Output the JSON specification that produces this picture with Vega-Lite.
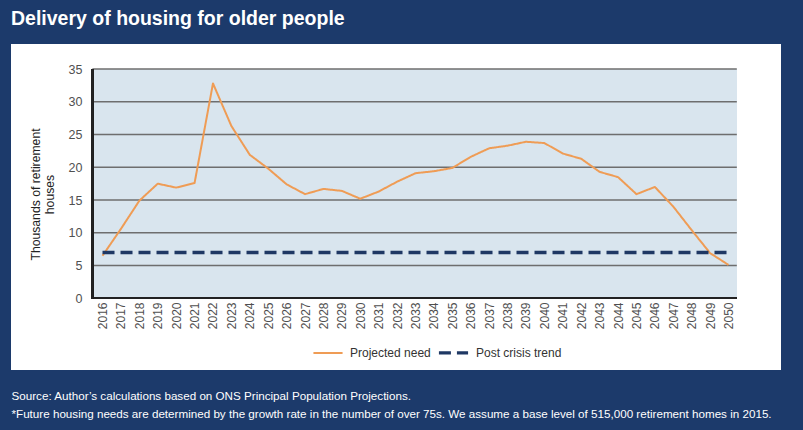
{
  "$schema": "https://vega.github.io/schema/vega-lite/v6.json",
  "width": 770,
  "height": 326,
  "autosize": {"type": "none"},
  "padding": {"left": 11, "top": 44, "right": 22, "bottom": 60},
  "background": "#1c3a6b",
  "title": {
    "text": "Delivery of housing for older people",
    "anchor": "start",
    "frame": "group",
    "orient": "top",
    "baseline": "alphabetic",
    "offset": 20,
    "dy": 20,
    "color": "#ffffff",
    "font": "Liberation Sans",
    "fontSize": 19.5,
    "fontWeight": "bold"
  },
  "config": {
    "view": {"fill": "#ffffff", "stroke": null},
    "font": "Liberation Sans"
  },
  "datasets": {
    "series": [
      {"year": 2016, "value": 6.5, "series": "Projected need"},
      {"year": 2017, "value": 10.6, "series": "Projected need"},
      {"year": 2018, "value": 14.9, "series": "Projected need"},
      {"year": 2019, "value": 17.5, "series": "Projected need"},
      {"year": 2020, "value": 16.9, "series": "Projected need"},
      {"year": 2021, "value": 17.6, "series": "Projected need"},
      {"year": 2022, "value": 32.8, "series": "Projected need"},
      {"year": 2023, "value": 26.3, "series": "Projected need"},
      {"year": 2024, "value": 21.9, "series": "Projected need"},
      {"year": 2025, "value": 19.8, "series": "Projected need"},
      {"year": 2026, "value": 17.4, "series": "Projected need"},
      {"year": 2027, "value": 15.9, "series": "Projected need"},
      {"year": 2028, "value": 16.7, "series": "Projected need"},
      {"year": 2029, "value": 16.4, "series": "Projected need"},
      {"year": 2030, "value": 15.2, "series": "Projected need"},
      {"year": 2031, "value": 16.3, "series": "Projected need"},
      {"year": 2032, "value": 17.8, "series": "Projected need"},
      {"year": 2033, "value": 19.1, "series": "Projected need"},
      {"year": 2034, "value": 19.4, "series": "Projected need"},
      {"year": 2035, "value": 19.9, "series": "Projected need"},
      {"year": 2036, "value": 21.6, "series": "Projected need"},
      {"year": 2037, "value": 22.9, "series": "Projected need"},
      {"year": 2038, "value": 23.3, "series": "Projected need"},
      {"year": 2039, "value": 23.9, "series": "Projected need"},
      {"year": 2040, "value": 23.7, "series": "Projected need"},
      {"year": 2041, "value": 22.1, "series": "Projected need"},
      {"year": 2042, "value": 21.3, "series": "Projected need"},
      {"year": 2043, "value": 19.3, "series": "Projected need"},
      {"year": 2044, "value": 18.5, "series": "Projected need"},
      {"year": 2045, "value": 15.9, "series": "Projected need"},
      {"year": 2046, "value": 17.0, "series": "Projected need"},
      {"year": 2047, "value": 14.0, "series": "Projected need"},
      {"year": 2048, "value": 10.4, "series": "Projected need"},
      {"year": 2049, "value": 6.9, "series": "Projected need"},
      {"year": 2050, "value": 5.1, "series": "Projected need"},
      {"year": 2016, "value": 7, "series": "Post crisis trend"},
      {"year": 2017, "value": 7, "series": "Post crisis trend"},
      {"year": 2018, "value": 7, "series": "Post crisis trend"},
      {"year": 2019, "value": 7, "series": "Post crisis trend"},
      {"year": 2020, "value": 7, "series": "Post crisis trend"},
      {"year": 2021, "value": 7, "series": "Post crisis trend"},
      {"year": 2022, "value": 7, "series": "Post crisis trend"},
      {"year": 2023, "value": 7, "series": "Post crisis trend"},
      {"year": 2024, "value": 7, "series": "Post crisis trend"},
      {"year": 2025, "value": 7, "series": "Post crisis trend"},
      {"year": 2026, "value": 7, "series": "Post crisis trend"},
      {"year": 2027, "value": 7, "series": "Post crisis trend"},
      {"year": 2028, "value": 7, "series": "Post crisis trend"},
      {"year": 2029, "value": 7, "series": "Post crisis trend"},
      {"year": 2030, "value": 7, "series": "Post crisis trend"},
      {"year": 2031, "value": 7, "series": "Post crisis trend"},
      {"year": 2032, "value": 7, "series": "Post crisis trend"},
      {"year": 2033, "value": 7, "series": "Post crisis trend"},
      {"year": 2034, "value": 7, "series": "Post crisis trend"},
      {"year": 2035, "value": 7, "series": "Post crisis trend"},
      {"year": 2036, "value": 7, "series": "Post crisis trend"},
      {"year": 2037, "value": 7, "series": "Post crisis trend"},
      {"year": 2038, "value": 7, "series": "Post crisis trend"},
      {"year": 2039, "value": 7, "series": "Post crisis trend"},
      {"year": 2040, "value": 7, "series": "Post crisis trend"},
      {"year": 2041, "value": 7, "series": "Post crisis trend"},
      {"year": 2042, "value": 7, "series": "Post crisis trend"},
      {"year": 2043, "value": 7, "series": "Post crisis trend"},
      {"year": 2044, "value": 7, "series": "Post crisis trend"},
      {"year": 2045, "value": 7, "series": "Post crisis trend"},
      {"year": 2046, "value": 7, "series": "Post crisis trend"},
      {"year": 2047, "value": 7, "series": "Post crisis trend"},
      {"year": 2048, "value": 7, "series": "Post crisis trend"},
      {"year": 2049, "value": 7, "series": "Post crisis trend"},
      {"year": 2050, "value": 7, "series": "Post crisis trend"}
    ],
    "grid": [
      {"g": 5}, {"g": 10}, {"g": 15}, {"g": 20}, {"g": 25}, {"g": 30}, {"g": 35}
    ]
  },
  "data": {"name": "series"},
  "layer": [
    {
      "mark": {"type": "rect", "color": "#d9e5ee"},
      "encoding": {
        "x": {
          "datum": 2015.45,
          "type": "quantitative",
          "scale": {"domain": [2011.03, 2052.85], "nice": false, "zero": false},
          "axis": {
            "values": [2016, 2017, 2018, 2019, 2020, 2021, 2022, 2023, 2024, 2025, 2026, 2027, 2028, 2029, 2030, 2031, 2032, 2033, 2034, 2035, 2036, 2037, 2038, 2039, 2040, 2041, 2042, 2043, 2044, 2045, 2046, 2047, 2048, 2049, 2050],
            "tickCount": 60,
            "format": "d",
            "offset": -72,
            "domain": false,
            "ticks": false,
            "grid": false,
            "labelAngle": -90,
            "labelAlign": "right",
            "labelBaseline": "middle",
            "labelPadding": 4,
            "labelFont": "Liberation Sans",
            "labelFontSize": 12,
            "labelColor": "#505050",
            "labelOverlap": false,
            "labelSeparation": 0,
            "labelFlush": false,
            "labelBound": false,
            "title": ["Source: Author’s calculations based on ONS Principal Population Projections.", "*Future housing needs are determined by the growth rate in the number of over 75s. We assume a base level of 515,000 retirement homes in 2015."],
            "titleX": 0,
            "titleY": 92,
            "titleAlign": "left",
            "titleAnchor": "start",
            "titleBaseline": "top",
            "titleAngle": 0,
            "titleColor": "#ffffff",
            "titleFont": "Liberation Sans",
            "titleFontSize": 11.65,
            "titleFontWeight": "normal",
            "titleLineHeight": 18
          }
        },
        "x2": {"datum": 2050.45},
        "y": {
          "datum": 0,
          "type": "quantitative",
          "scale": {"domain": [-10.94, 38.82], "nice": false, "zero": false},
          "axis": {
            "values": [0, 5, 10, 15, 20, 25, 30, 35],
            "tickCount": 20,
            "offset": -81,
            "domain": false,
            "ticks": false,
            "grid": false,
            "labelPadding": 10,
            "labelFont": "Liberation Sans",
            "labelFontSize": 12.5,
            "labelColor": "#505050",
            "labelFlush": false,
            "title": ["Thousands of retirement", "houses"],
            "titleY": 150,
            "titleFont": "Liberation Sans",
            "titleFontSize": 12.2,
            "titleFontWeight": "normal",
            "titleColor": "#222222",
            "titlePadding": 12,
            "titleLineHeight": 14
          }
        },
        "y2": {"datum": 35}
      }
    },
    {
      "data": {"name": "grid"},
      "mark": {"type": "rule", "color": "#6e6e6e", "strokeWidth": 1.4},
      "encoding": {
        "x": {"datum": 2015.45, "type": "quantitative", "scale": {"domain": [2011.03, 2052.85], "nice": false, "zero": false}},
        "x2": {"datum": 2050.45},
        "y": {"field": "g", "type": "quantitative", "scale": {"domain": [-10.94, 38.82], "nice": false, "zero": false}}
      }
    },
    {
      "mark": {"type": "rule", "color": "#222222", "strokeWidth": 1.5},
      "encoding": {
        "x": {"datum": 2015.45, "type": "quantitative", "scale": {"domain": [2011.03, 2052.85], "nice": false, "zero": false}},
        "x2": {"datum": 2050.45},
        "y": {"datum": 0, "type": "quantitative", "scale": {"domain": [-10.94, 38.82], "nice": false, "zero": false}}
      }
    },
    {
      "mark": {"type": "rule", "color": "#222222", "strokeWidth": 1.5},
      "encoding": {
        "x": {"datum": 2015.45, "type": "quantitative", "scale": {"domain": [2011.03, 2052.85], "nice": false, "zero": false}},
        "y": {"datum": 0, "type": "quantitative", "scale": {"domain": [-10.94, 38.82], "nice": false, "zero": false}},
        "y2": {"datum": 35}
      }
    },
    {
      "mark": {"type": "line", "strokeCap": "butt", "strokeJoin": "round"},
      "encoding": {
        "x": {"field": "year", "type": "quantitative", "scale": {"domain": [2011.03, 2052.85], "nice": false, "zero": false}},
        "y": {"field": "value", "type": "quantitative", "scale": {"domain": [-10.94, 38.82], "nice": false, "zero": false}},
        "color": {
          "field": "series",
          "type": "nominal",
          "scale": {"domain": ["Projected need", "Post crisis trend"], "range": ["#ef9c55", "#1f3864"]},
          "legend": {
            "orient": "none",
            "legendX": 301,
            "legendY": 292,
            "direction": "horizontal",
            "title": null,
            "symbolType": "stroke",
            "symbolSize": 850,
            "symbolStrokeWidth": 3,
            "labelFont": "Liberation Sans",
            "labelFontSize": 12,
            "labelColor": "#333333",
            "labelOffset": 6,
            "columnPadding": 1
          }
        },
        "strokeDash": {
          "field": "series",
          "type": "nominal",
          "scale": {"domain": ["Projected need", "Post crisis trend"], "range": [[1, 0], [12, 6]]},
          "legend": {
            "orient": "none",
            "legendX": 301,
            "legendY": 292,
            "direction": "horizontal",
            "title": null,
            "symbolType": "stroke",
            "symbolSize": 850,
            "symbolStrokeWidth": 3,
            "labelFont": "Liberation Sans",
            "labelFontSize": 12,
            "labelColor": "#333333",
            "labelOffset": 6,
            "columnPadding": 1
          }
        },
        "strokeWidth": {
          "field": "series",
          "type": "nominal",
          "scale": {"domain": ["Projected need", "Post crisis trend"], "range": [2, 3.4]},
          "legend": null
        }
      }
    }
  ]
}
